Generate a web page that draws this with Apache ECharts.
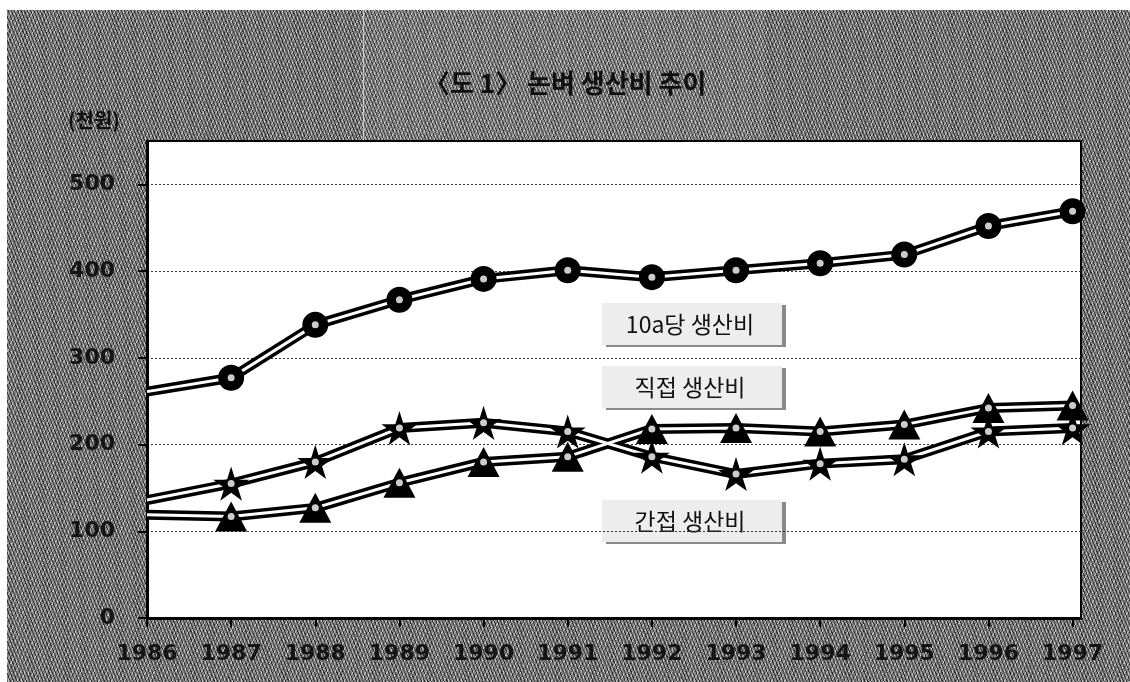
<!DOCTYPE html>
<html>
	<head>
		<meta charset="utf-8">
		<title>논벼 생산비 추이</title>
		<script src="https://cdn.jsdelivr.net/npm/echarts@6/dist/echarts.min.js"></script>
		<style>
			html, body { margin: 0; padding: 0; background: #fff; }
			#wrap { position: relative; width: 1130px; height: 682px; overflow: hidden; }
			/* 배경 질감 (인쇄물 망점 느낌) */
			#paper {
				position: absolute; left: 7px; top: 10px; right: 0; bottom: 0;
				background-color: #828282;
				background-image:
					repeating-linear-gradient(68deg, rgba(0,0,0,.6) 0 1px, transparent 1px 3px),
					repeating-linear-gradient(112deg, rgba(255,255,255,.5) 0 1px, transparent 1px 4px);
			}
			#panel {
				position: absolute; left: 363px; top: 10px; width: 400px; height: 131px;
				border-left: 1px solid rgba(255,255,255,.6);
				background: rgba(255,255,255,.05);
			}
			#main { position: absolute; left: 0; top: 0; width: 1130px; height: 682px; }
		</style>
	</head>
	<body>
		<div id="wrap">
			<div id="paper"></div>
			<div id="panel"></div>
			<div id="main"></div>
		</div>
		<script>
			// 연도 (x축)
			var years = [1986, 1987, 1988, 1989, 1990, 1991, 1992, 1993, 1994, 1995, 1996, 1997];
			// y축 눈금
			var yTicks = [0, 100, 200, 300, 400, 500];
			// 단위: 천원
			var costPer10a = [261, 277, 338, 367, 391, 401, 393, 401, 409, 419, 452, 469];
			var directCost = [119, 117, 127, 156, 180, 186, 218, 219, 215, 223, 242, 245];
			var indirectCost = [136, 155, 180, 219, 225, 215, 186, 166, 178, 183, 215, 219];

			var starPath = 'path://M50,0 L61,35 L98,35 L68,57 L79,91 L50,70 L21,91 L32,57 L2,35 L39,35 Z';

			var numFont = 'DejaVu Sans';
			var krFont = 'Noto Sans CJK KR';

			function pairs(values) {
				return values.map(function(v, i) { return [years[i], v]; });
			}

			// 두 줄 선 + 표식 (1986년은 표식 없음)
			function makeSeries(name, values, symbol, size) {
				var data = pairs(values);
				return [{
					name: name,
					type: 'line',
					data: data,
					symbol: 'none',
					lineStyle: { color: '#000', width: 10 },
					z: 2,
					silent: true
				}, {
					name: name,
					type: 'line',
					data: data.map(function(d, i) {
						return i === 0 ? { value: d, symbol: 'none' } : { value: d };
					}),
					symbol: symbol,
					symbolSize: size,
					symbolKeepAspect: true,
					itemStyle: { color: '#000', opacity: 1 },
					lineStyle: { color: '#fff', width: 3 },
					z: 3,
					silent: true
				}, {
					name: name,
					type: 'scatter',
					data: data.slice(1),
					symbol: 'circle',
					symbolSize: 7,
					itemStyle: { color: '#fff' },
					z: 4,
					silent: true
				}];
			}

			function labelBox(text, x, y) {
				return {
					type: 'group',
					left: x,
					top: y,
					children: [{
						type: 'rect',
						shape: { x: 0, y: 0, width: 180, height: 42 },
						style: {
							fill: '#ededed',
							shadowColor: '#8a8a8a',
							shadowOffsetX: 4,
							shadowOffsetY: 2,
							shadowBlur: 0
						}
					}, {
						type: 'text',
						x: 88,
						y: 21,
						style: {
							text: text,
							font: '23px "' + krFont + '"',
							fill: '#111',
							align: 'center',
							verticalAlign: 'middle'
						}
					}]
				};
			}

			var myChart = echarts.init(document.getElementById('main'));

			var option = {
				backgroundColor: 'transparent',
				animation: false,
				grid: {
					left: 147,
					right: 49,
					top: 141,
					bottom: 64,
					show: true,
					backgroundColor: '#fff',
					borderColor: '#000',
					borderWidth: 2
				},
				xAxis: {
					type: 'value',
					min: 1986,
					max: 1997.1,
					interval: 1,
					axisLine: { lineStyle: { color: '#000', width: 3 } },
					axisTick: {
						show: true,
						length: 9,
						customValues: years,
						lineStyle: { color: '#000', width: 2 }
					},
					axisLabel: {
						customValues: years,
						margin: 25,
						color: '#151515',
						fontFamily: numFont,
						fontWeight: 'bold',
						fontSize: 22,
						formatter: function(v) { return v % 1 === 0 ? String(v) : ''; }
					},
					splitLine: { show: false }
				},
				yAxis: {
					type: 'value',
					min: 0,
					max: 550,
					interval: 100,
					axisLine: { show: true, lineStyle: { color: '#000', width: 3 } },
					axisTick: {
						show: true,
						length: 9,
						customValues: yTicks,
						lineStyle: { color: '#000', width: 2 }
					},
					axisLabel: {
						customValues: yTicks,
						margin: 32,
						color: '#151515',
						fontFamily: numFont,
						fontWeight: 'bold',
						fontSize: 22,
						formatter: function(v) { return v % 100 === 0 ? String(v) : ''; }
					},
					splitLine: {
						show: true,
						lineStyle: { color: '#333', width: 1, type: [2, 2] }
					}
				},
				series: [].concat(
					makeSeries('10a당 생산비', costPer10a, 'circle', 26),
					makeSeries('직접 생산비', directCost, 'triangle', [32, 30]),
					makeSeries('간접 생산비', indirectCost, starPath, 36)
				),
				graphic: [{
					type: 'text',
					left: 424,
					top: 70,
					style: {
						text: '〈도 1〉 논벼 생산비 추이',
						font: 'bold 26px "' + krFont + '"',
						fill: '#111'
					}
				}, {
					type: 'text',
					left: 68,
					top: 110,
					style: {
						text: '(천원)',
						font: 'bold 20px "' + krFont + '"',
						fill: '#111'
					}
				},
					labelBox('10a당 생산비', 602, 303),
					labelBox('직접 생산비', 602, 366),
					labelBox('간접 생산비', 602, 500)
				]
			};

			myChart.setOption(option);
		</script>
	</body>
</html>
